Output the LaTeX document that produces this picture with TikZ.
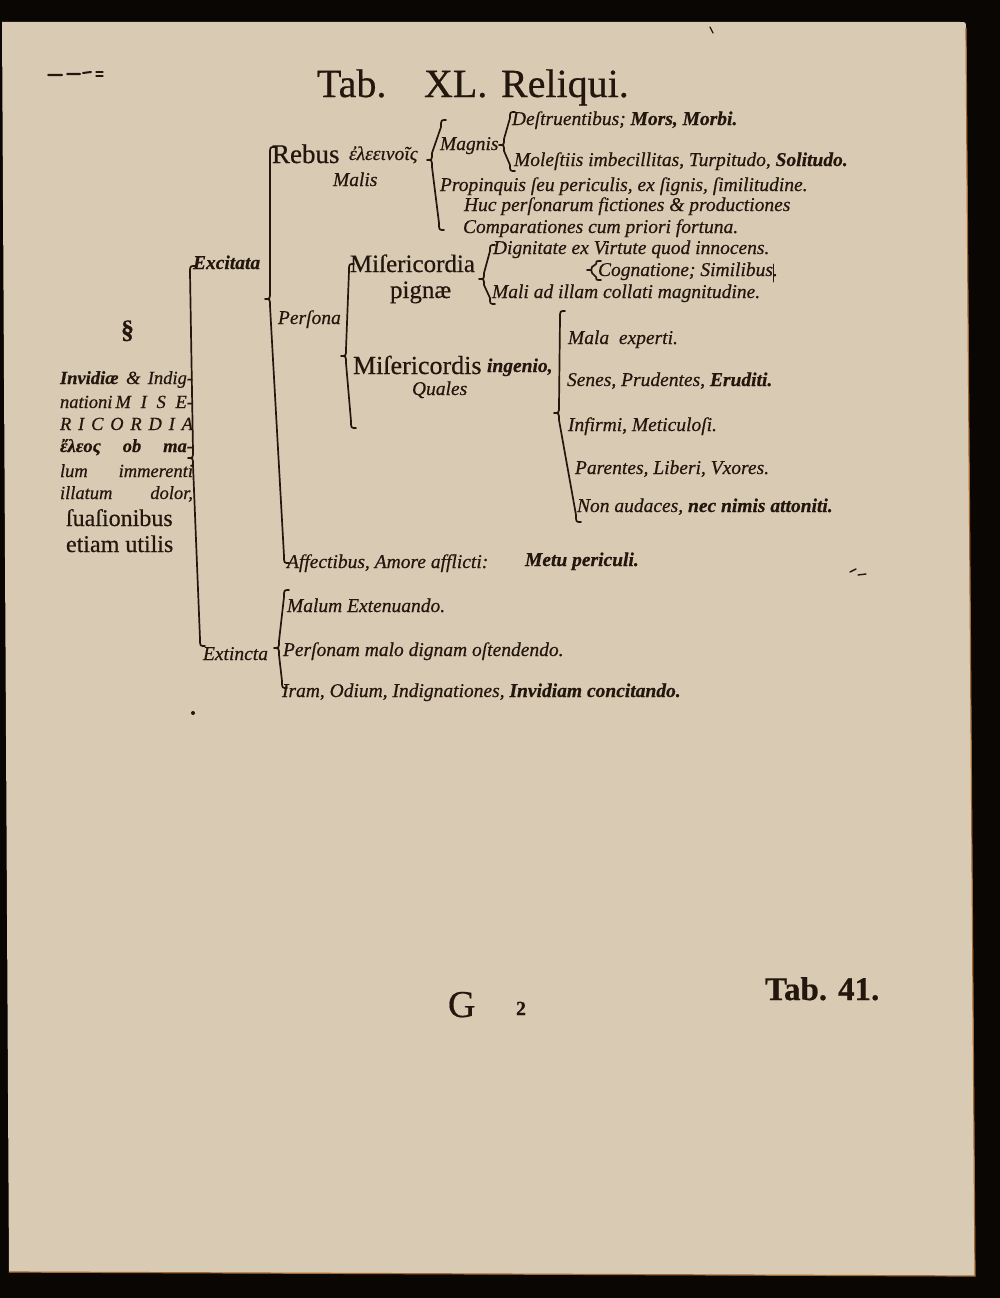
\documentclass[tikz,border=0pt]{standalone}
\usepackage{fontspec}
\setmainfont{Liberation Serif}[FakeBold=0.5]
\usetikzlibrary{calc}
\definecolor{page}{RGB}{216,202,179}
\definecolor{ink}{RGB}{34,22,13}
\definecolor{edge}{RGB}{165,105,50}
\definecolor{border}{RGB}{10,6,4}
\newcommand\fs[1]{\fontsize{#1}{#1}\selectfont}
\tikzset{
 lbl/.style={anchor=base west, inner sep=0pt, outer sep=0pt, text=ink, font=\fs{19.5}\itshape},
 rom/.style={lbl, font=\fs{25}},
 side/.style={lbl, font=\fs{18.5}\itshape},
 brc/.style={draw=ink, line width=1.7pt, line cap=round, line join=round},
 speck/.style={draw=ink, line width=2pt, line cap=round},
}
% brace: optional curl size, name prefix of coordinates (t = top, m = tip, b = bottom)
\newcommand\curly[2][7]{\draw[brc] ($(#2t)+(5,0)$) .. controls (#2t) .. ($(#2t)+(0,#1)$) -- ($(#2m)+(0,-#1)$) .. controls (#2m) .. ($(#2m)+(-5,0)$) .. controls (#2m) .. ($(#2m)+(0,#1)$) -- ($(#2b)+(0,-#1)$) .. controls (#2b) .. ($(#2b)+(5,0)$);}
\begin{document}
\begin{tikzpicture}[x=1pt,y=-1pt]
\useasboundingbox (0,0) rectangle (1000,1298);
\fill[border] (0,0) rectangle (1000,1298);
\fill[page] (2,22) -- (960,22) .. controls (966,22) .. (966,28) -- (975,1276) -- (9,1272) -- cycle;
\draw[edge, line width=1.2pt] (966,28) -- (975,1276) -- (9,1272);

% specks
\draw[speck] (48,75) -- (62,75) (67,74) -- (80,74) (83,73) -- (91,72);
\draw[speck, line width=1.2pt] (96,72) -- (103,72) (96,76) -- (103,76);
\draw[speck, line width=1.2pt] (710,27) -- (713,33);
\draw[speck, line width=1.4pt] (850,572) -- (856,569) (858,575) -- (866,574);
\fill[ink] (193,713) circle (2);

% title
\node[lbl, font=\fs{40}] (t1) at (317,97) {Tab.};
\node[lbl, font=\fs{40}] (t2) at (424,97) {XL.};
\node[lbl, font=\fs{40}] (t3) at (501,97) {Reliqui.};

% Rebus branch
\node[lbl, font=\fs{27}] (rebus) at (272,163) {Rebus};
\node[lbl] (greek) at (349,160) {ἐλεεινοῖς};
\node[lbl] (malis) at (333,186) {Malis};
\node[lbl] (magnis) at (440,150) {Magnis};
\node[lbl] (destr) at (512,125) {Deſtruentibus; \textbf{Mors, Morbi.}};
\node[lbl] (molest) at (514,166) {Moleſtiis imbecillitas, Turpitudo, \textbf{Solitudo.}};
\node[lbl] (propinq) at (440,191) {Propinquis ſeu periculis, ex ſignis, ſimilitudine.};
\node[lbl] (huc) at (464,211) {Huc perſonarum fictiones \& productiones};
\node[lbl] (compar) at (463,233) {Comparationes cum priori fortuna.};

% Persona branch
\node[lbl, font=\fs{19.5}\bfseries\itshape] (excit) at (193,269) {Excitata};
\node[rom] (miser) at (350,272) {Miſericordia};
\node[rom] (pignae) at (390,298) {pignæ};
\node[lbl] (dignit) at (493,254) {Dignitate ex Virtute quod innocens.};
\node[lbl] (cognat) at (598,276) {Cognatione; Similibus.};
\node[lbl] (maliad) at (492,298) {Mali ad illam collati magnitudine.};
\node[lbl] (persona) at (278,324) {Perſona};
\node[rom, font=\fs{26}] (miserd) at (353,374) {Miſericordis};
\node[lbl, font=\fs{19.5}\bfseries\itshape] (ingenio) at (487,372) {ingenio,};
\node[lbl] (quales) at (412,395) {Quales};
\node[lbl] (malaexp) at (568,344) {Mala \ experti.};
\node[lbl] (senes) at (567,386) {Senes, Prudentes, \textbf{Eruditi.}};
\node[lbl] (infirmi) at (568,431) {Infirmi, Meticuloſi.};
\node[lbl] (parent) at (575,474) {Parentes, Liberi, Vxores.};
\node[lbl] (nonaud) at (577,512) {Non audaces, \textbf{nec nimis attoniti.}};
\node[lbl] (affect) at (287,568) {Affectibus, Amore afflicti:};
\node[lbl, font=\fs{19.5}\bfseries\itshape] (metu) at (525,566) {Metu periculi.};

% Extincta branch
\node[lbl] (malum) at (287,612) {Malum Extenuando.};
\node[lbl] (extinct) at (203,660) {Extincta};
\node[lbl] (personam) at (283,656) {Perſonam malo dignam oſtendendo.};
\node[lbl] (iram) at (282,697) {Iram, Odium, Indignationes, \textbf{Invidiam concitando.}};

% left column
\node[lbl, font=\fs{26}\bfseries] (sect) at (121,338) {§};
\node[side] (l1) at (60,384) {\makebox[133pt][s]{\textbf{Invidiæ} \& Indig-}};
\node[side] (l2) at (60,408) {\makebox[133pt][s]{nationi\,M\hfill I\hfill S\hfill E-}};
\node[side] (l3) at (60,430) {\makebox[133pt][s]{R\hfill I\hfill C\hfill O\hfill R\hfill D\hfill I\hfill A}};
\node[side] (l4) at (60,452) {\makebox[133pt][s]{\textbf{ἔλεος ob ma-}}};
\node[side] (l5) at (60,477) {\makebox[133pt][s]{lum immerenti}};
\node[side] (l6) at (60,499) {\makebox[133pt][s]{illatum dolor,}};
\node[lbl, font=\fs{24}] (l7) at (66,526) {ſuaſionibus};
\node[lbl, font=\fs{24}] (l8) at (66,552) {etiam utilis};

% braces
\coordinate (At) at (190,266); \coordinate (Am) at (193,458); \coordinate (Ab) at (200,646);
\coordinate (Bt) at (270,147); \coordinate (Bm) at (270,299); \coordinate (Bb) at (284,563);
\coordinate (Ct) at (284,590); \coordinate (Cm) at (279,648); \coordinate (Cb) at (282,688);
\coordinate (Dt) at (349,264); \coordinate (Dm) at (346,356); \coordinate (Db) at (351,428);
\coordinate (Et) at (490,245); \coordinate (Em) at (484,279); \coordinate (Eb) at (490,304);
\coordinate (Ft) at (596,261); \coordinate (Fm) at (592,270); \coordinate (Fb) at (596,280);
\coordinate (Gt) at (560,311); \coordinate (Gm) at (559,413); \coordinate (Gb) at (576,522);
\coordinate (Ht) at (510,112); \coordinate (Hm) at (504,145); \coordinate (Hb) at (510,171);
\coordinate (Rt) at (441,120); \coordinate (Rm) at (432,160); \coordinate (Rb) at (439,230);
\curly{A}\curly{B}\curly{C}\curly{D}\curly[6]{E}\curly[3]{F}\curly{G}\curly[6]{H}\curly{R}
\draw[brc, line width=0.8pt] (773,264) -- (773,282);

% foot
\node[lbl, font=\fs{38}] (gsig) at (448,1017) {G};
\node[lbl, font=\fs{20}\bfseries] (gnum) at (516,1015) {2};
\node[lbl, font=\fs{33}\bfseries] (catch) at (765,1000) {Tab. 41.};
\end{tikzpicture}
\end{document}
